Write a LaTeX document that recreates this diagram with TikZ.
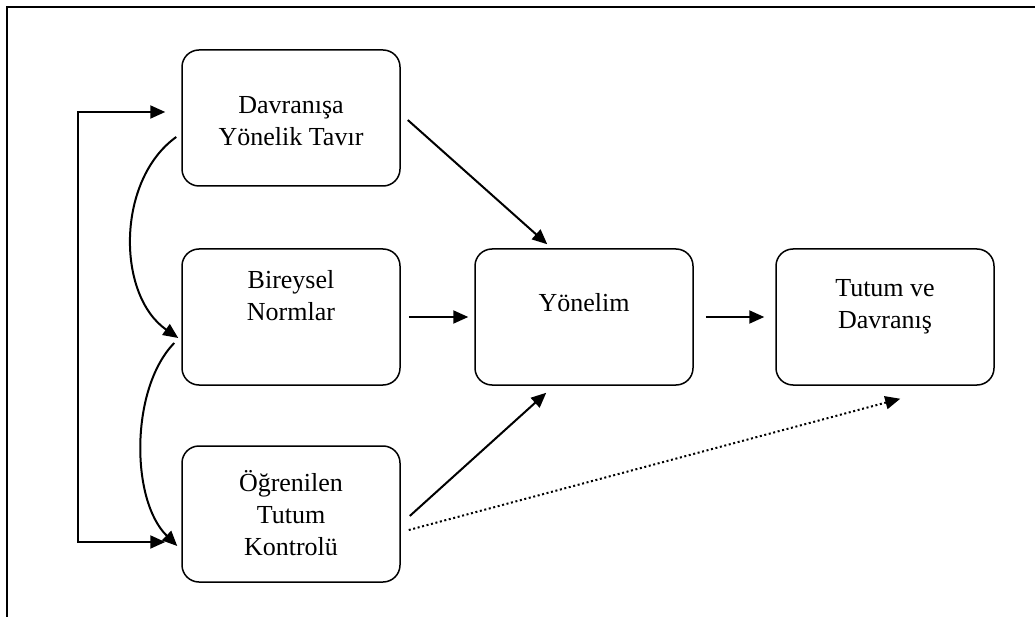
\documentclass[tikz,border=0pt]{standalone}
\usepackage{fontspec}
\setmainfont{Liberation Serif}
\usetikzlibrary{arrows.meta,calc}
\begin{document}
\begin{tikzpicture}[x=1pt,y=-1pt,
  box/.style={draw,line width=1.5pt,rounded corners=17pt,minimum width=218pt,minimum height=136pt,inner sep=0pt},
  lbl/.style={font=\fontsize{26}{32}\selectfont,align=center,inner sep=0pt},
  tip/.tip={Triangle[length=15pt,width=13pt]},
  arr/.style={line width=2pt,-tip},
  barr/.style={line width=2pt,tip-tip},
  dotarr/.style={line width=2pt,dash pattern=on 2pt off 2.6pt,-tip},
  frame/.style={line width=2pt}]
\useasboundingbox (0,0) rectangle (1035,617);
% frame (top and left edges)
\coordinate (f1) at (1035,7);
\coordinate (f2) at (7,7);
\coordinate (f3) at (7,617);
\draw[frame] (f1) -- (f2) -- (f3);
% boxes
\node[box] (A) at (291,118) {};
\node[box] (B) at (291,317) {};
\node[box] (C) at (291,514) {};
\node[box] (D) at (584,317) {};
\node[box] (E) at (885,317) {};
% labels
\node[lbl] (At) at (291,121) {Davranışa\\Yönelik Tavır};
\node[lbl] (Bt) at (291,296) {Bireysel\\Normlar};
\node[lbl] (Ct) at (291,513) {Öğrenilen\\Tutum\\Kontrolü};
\node[lbl] (Dt) at (584,303) {Yönelim};
\node[lbl] (Et) at (885,307) {Tutum ve\\Davranış};
% connectors
\draw[arr] ($(A.east)+(7,2)$) -- ($(D.north west)+(73,-4)$);
\draw[arr] ($(B.east)+(8,0)$) -- ($(D.west)+(-6,0)$);
\draw[arr] ($(C.east)+(9,2)$) -- ($(D.south west)+(72,7)$);
\draw[arr] ($(D.east)+(12,0)$) -- ($(E.west)+(-11,0)$);
\draw[dotarr] ($(C.east)+(8,16)$) -- ($(E.south west)+(125,13)$);
\draw[barr] ($(A.west)+(-16,-6)$) -- ++(-87,0) |- ($(C.west)+(-16,28)$);
\draw[arr] ($(A.west)+(-5,19)$) .. controls +(-60,43) and +(-62,-43) .. ($(B.west)+(-3,21)$);
\draw[arr] ($(B.west)+(-7,26)$) .. controls +(-44,45) and +(-47,-46) .. ($(C.west)+(-4,32)$);
\end{tikzpicture}
\end{document}
